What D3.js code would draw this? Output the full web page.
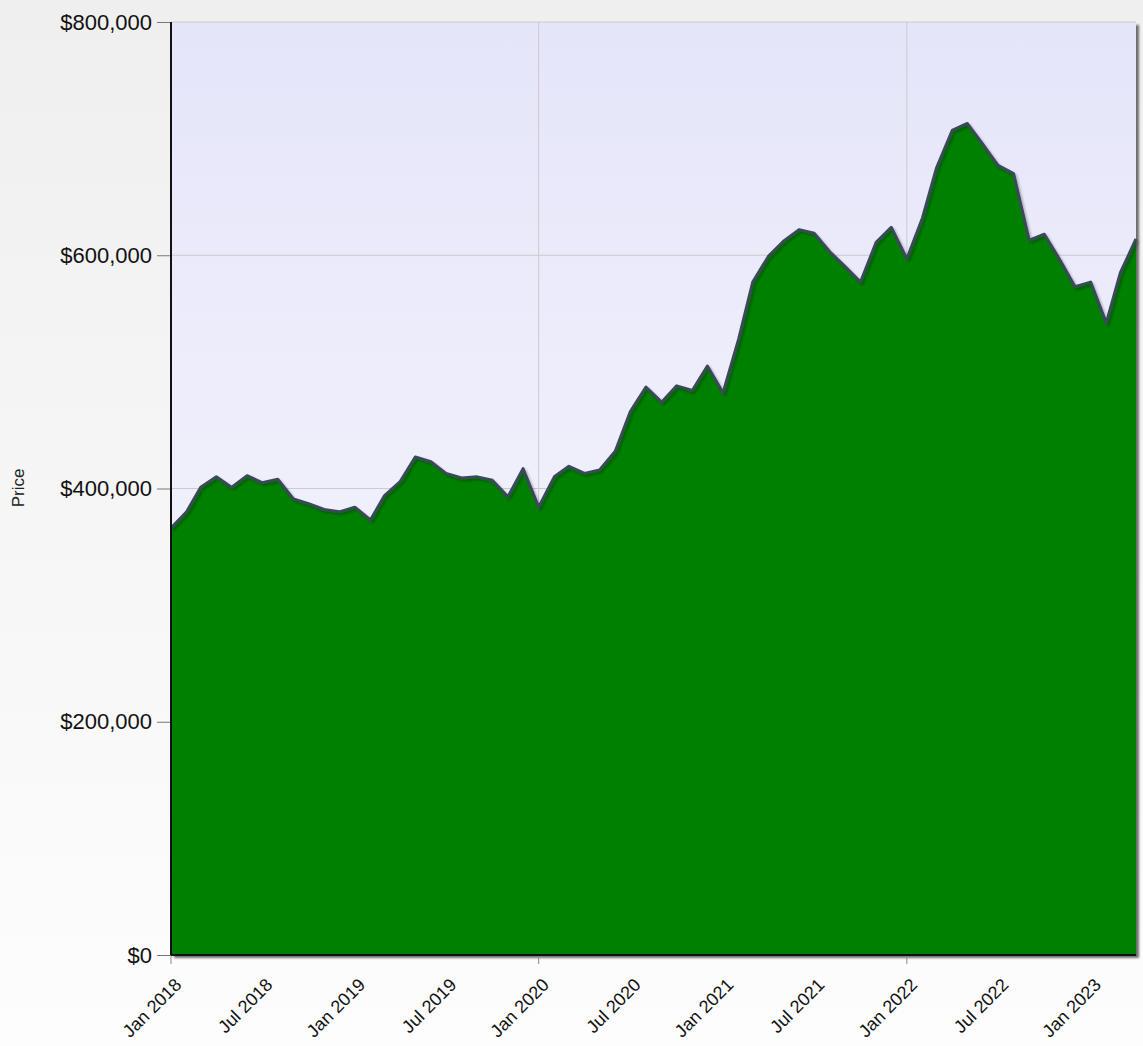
<!DOCTYPE html>
<html lang="en">
    <head>
        <meta charset="utf-8">
        <style>
            html, body {
                margin: 0;
                padding: 0;
            }
            body {
                width: 1143px;
                height: 1046px;
                overflow: hidden;
                font-family: "Liberation Sans", Arial, sans-serif;
            }
            .area {
                fill: #008000;
            }
            .line {
                fill: none;
                stroke: #3b4a5a;
                stroke-width: 3px;
                stroke-linejoin: round;
            }
            .grid line {
                stroke: #cbcbcb;
                stroke-width: 1px;
            }
        </style>
        <script src="https://d3js.org/d3.v7.min.js"></script>
        <title>Price</title>
    </head>
    <body>
        <div id="chart"></div>
        <script>
            // monthly median price, Jan 2018 .. Apr 2023
            var firstMonth = new Date(2018, 0, 1);
            var lastMonth = new Date(2023, 3, 1);
            var prices = [
                366000, 380000, 401000, 410000, 401000, 411000, 405000, 408000, 391000, 387000, 382000, 380000,
                384000, 373000, 394000, 406000, 427000, 423000, 413000, 409000, 410000, 407000, 393000, 417000,
                384000, 410000, 419000, 413000, 416000, 432000, 466000, 487000, 474000, 488000, 484000, 505000,
                482000, 528000, 577000, 599000, 612000, 622000, 619000, 603000, 590000, 577000, 611000, 624000,
                597000, 632000, 675000, 707000, 713000, 695000, 677000, 670000, 613000, 618000, 596000, 573000,
                577000, 542000, 585000, 614000
            ];
            var yTicks = [0, 200000, 400000, 600000, 800000];
            var xLabelTicks = [
                new Date(2018, 0, 1), new Date(2018, 6, 1), new Date(2019, 0, 1), new Date(2019, 6, 1),
                new Date(2020, 0, 1), new Date(2020, 6, 1), new Date(2021, 0, 1), new Date(2021, 6, 1),
                new Date(2022, 0, 1), new Date(2022, 6, 1), new Date(2023, 0, 1)
            ];
            var xGridTicks = [new Date(2018, 0, 1), new Date(2020, 0, 1), new Date(2022, 0, 1)];

            var months = d3.timeMonth.range(firstMonth, d3.timeMonth.offset(lastMonth, 1));
            var data = months.map(function(d, i) { return {date: d, price: prices[i]}; });

            var margin = {top: 22, right: 3, bottom: 91, left: 171},
                width = 1143 - margin.left - margin.right,
                height = 1046 - margin.top - margin.bottom;

            var root = d3.select("#chart")
                .append("svg")
                    .attr("width", 1143)
                    .attr("height", 1046);

            var defs = root.append("defs");

            var pageGrad = defs.append("linearGradient")
                .attr("id", "pageBg").attr("x1", 0).attr("y1", 0).attr("x2", 0).attr("y2", 1);
            pageGrad.append("stop").attr("offset", "0%").attr("stop-color", "#efefef");
            pageGrad.append("stop").attr("offset", "100%").attr("stop-color", "#fdfdfd");

            var plotGrad = defs.append("linearGradient")
                .attr("id", "plotBg").attr("x1", 0).attr("y1", 0).attr("x2", 0).attr("y2", 1);
            plotGrad.append("stop").attr("offset", "0%").attr("stop-color", "#e5e5fa");
            plotGrad.append("stop").attr("offset", "100%").attr("stop-color", "#fafafd");

            var shadow = defs.append("filter")
                .attr("id", "lineShadow").attr("x", "-5%").attr("y", "-5%").attr("width", "110%").attr("height", "110%");
            shadow.append("feDropShadow")
                .attr("dx", 2).attr("dy", 2).attr("stdDeviation", 1)
                .attr("flood-color", "#000").attr("flood-opacity", 0.25);

            var boxShadow = defs.append("filter").attr("id", "boxShadow");
            boxShadow.append("feGaussianBlur").attr("stdDeviation", 1);

            root.append("rect")
                .attr("width", 1143)
                .attr("height", 1046)
                .attr("fill", "url(#pageBg)");

            var svg = root.append("g")
                .attr("transform", "translate(" + margin.left + "," + margin.top + ")");

            var plotW = width - 4;

            var x = d3.scaleTime()
                .domain([firstMonth, lastMonth])
                .range([0, plotW]);

            var y = d3.scaleLinear()
                .domain([0, 800000])
                .range([height, 0]);

            // plot box with its shadow
            svg.append("rect")
                .attr("x", 3).attr("y", 3)
                .attr("width", plotW).attr("height", height)
                .attr("fill", "#6e6e6e")
                .attr("filter", "url(#boxShadow)");
            svg.append("rect")
                .attr("width", plotW)
                .attr("height", height)
                .attr("fill", "url(#plotBg)");

            // grid
            svg.append("g")
                .attr("class", "grid")
                .selectAll("line")
                .data(yTicks.slice(1))
                .join("line")
                    .attr("x1", 0).attr("x2", plotW)
                    .attr("y1", function(d) { return y(d); })
                    .attr("y2", function(d) { return y(d); });
            svg.append("g")
                .attr("class", "grid")
                .selectAll("line")
                .data(xGridTicks.slice(1))
                .join("line")
                    .attr("x1", function(d) { return x(d); })
                    .attr("x2", function(d) { return x(d); })
                    .attr("y1", 0).attr("y2", height);

            var area = d3.area()
                .x(function(d) { return x(d.date); })
                .y0(y(0))
                .y1(function(d) { return y(d.price); });

            var valueline = d3.line()
                .x(function(d) { return x(d.date); })
                .y(function(d) { return y(d.price); });

            svg.append("path")
                .datum(data)
                .attr("class", "area")
                .attr("d", area);

            svg.append("path")
                .datum(data)
                .attr("class", "line")
                .attr("filter", "url(#lineShadow)")
                .attr("d", valueline);

            // y axis
            var yAxis = svg.append("g")
                .call(d3.axisLeft(y)
                    .tickValues(yTicks)
                    .tickSize(14)
                    .tickPadding(5)
                    .tickFormat(function(d) { return "$" + d3.format(",")(d); }));
            yAxis.select(".domain").remove();
            yAxis.selectAll(".tick line").attr("stroke", "#777");
            yAxis.selectAll(".tick text")
                .attr("font-size", 22)
                .attr("font-family", "Liberation Sans, Arial, sans-serif")
                .attr("fill", "#111");

            // x axis: labels every six months, tick marks only on the grid years
            var xAxis = svg.append("g")
                .attr("transform", "translate(0," + height + ")")
                .call(d3.axisBottom(x)
                    .tickValues(xLabelTicks)
                    .tickSize(0)
                    .tickFormat(d3.timeFormat("%b %Y")));
            xAxis.select(".domain").remove();
            xAxis.selectAll(".tick text")
                .attr("font-size", 18)
                .attr("font-family", "Liberation Sans, Arial, sans-serif")
                .attr("fill", "#111")
                .attr("y", 0)
                .attr("dy", 0)
                .attr("text-anchor", "end")
                .attr("transform", "translate(11,31) rotate(-45)");

            svg.append("g")
                .selectAll("line")
                .data(xGridTicks)
                .join("line")
                    .attr("x1", function(d) { return x(d); })
                    .attr("x2", function(d) { return x(d); })
                    .attr("y1", height)
                    .attr("y2", height + 9)
                    .attr("stroke", "#888");

            // frame lines
            svg.append("line")
                .attr("x1", 0).attr("x2", 0)
                .attr("y1", 0).attr("y2", height)
                .attr("stroke", "#111").attr("stroke-width", 2);
            svg.append("line")
                .attr("x1", 0).attr("x2", plotW)
                .attr("y1", height).attr("y2", height)
                .attr("stroke", "#111").attr("stroke-width", 2);

            root.append("text")
                .attr("transform", "translate(24,488) rotate(-90)")
                .attr("text-anchor", "middle")
                .attr("font-size", 17)
                .attr("font-family", "Liberation Sans, Arial, sans-serif")
                .attr("fill", "#222")
                .text("Price");
        </script>
    </body>
</html>
